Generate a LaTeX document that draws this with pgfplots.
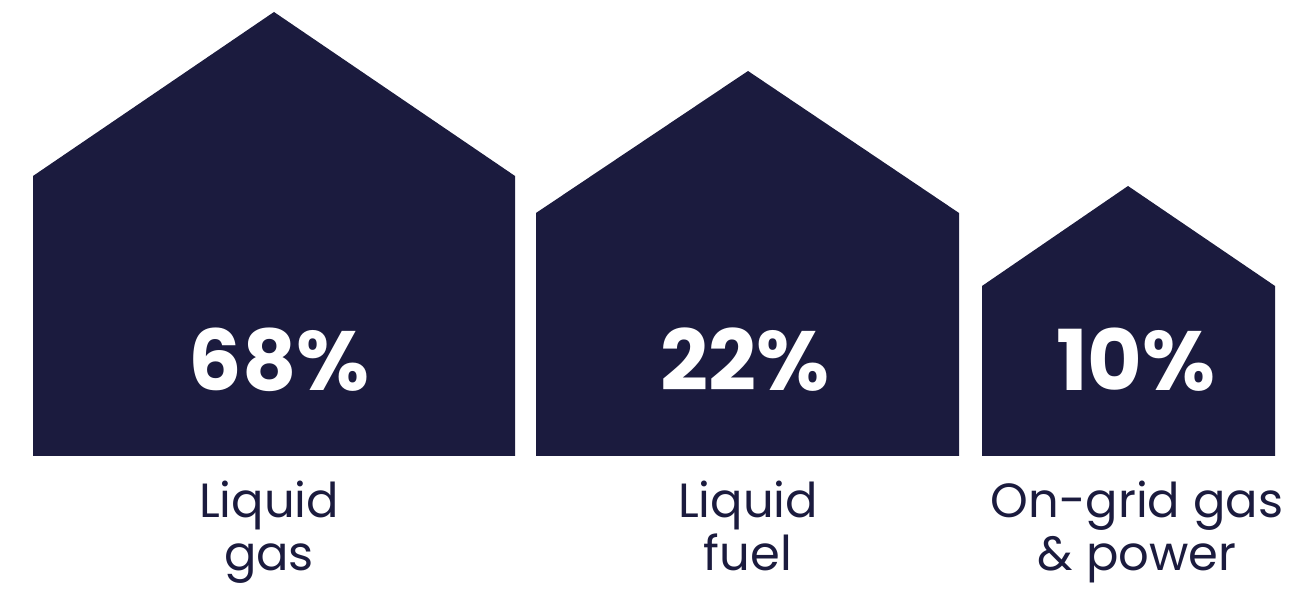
\documentclass[border=0pt]{standalone}
\usepackage{pgfplots}
\pgfplotsset{compat=1.18}
\usepackage{fontspec}
\setmainfont{Poppins}
\definecolor{navy}{RGB}{27,27,62}
\begin{document}
\begin{tikzpicture}
\begin{axis}[
  scale only axis, width=645pt, height=296pt,
  xmin=0, xmax=1290, ymin=0, ymax=592, y dir=reverse,
  hide axis, clip=false, anchor=south west, at={(0,0)}]
\addplot[fill=navy, draw=none] coordinates {(33,456) (33,176) (274,12) (515,176) (515,456)} -- cycle;
\addplot[fill=navy, draw=none] coordinates {(536,456) (536,213) (748,71) (959,213) (959,456)} -- cycle;
\addplot[fill=navy, draw=none] coordinates {(982,456) (982,286) (1128,186) (1275,286) (1275,456)} -- cycle;
\tikzset{pct/.style={anchor=base, text=white, font=\fontsize{42}{46}\selectfont\bfseries, inner sep=0pt}}
\node[pct] at (axis cs:279,391) {68\%};
\node[pct] at (axis cs:745,391) {22\%};
\node[pct] at (axis cs:1136,391) {10\%};
\tikzset{lab/.style={anchor=base, text=navy, font=\fontsize{24}{30}\selectfont, inner sep=0pt}}
\node[lab] at (axis cs:269,518) {Liquid};
\node[lab] at (axis cs:269,571) {gas};
\node[lab] at (axis cs:748,518) {Liquid};
\node[lab] at (axis cs:748,571) {fuel};
\node[lab] at (axis cs:1137,518) {On-grid gas};
\node[lab] at (axis cs:1137,571) {\& power};
\end{axis}
\pgfresetboundingbox
\useasboundingbox (0,0) rectangle (645pt,296pt);
\end{tikzpicture}
\end{document}
